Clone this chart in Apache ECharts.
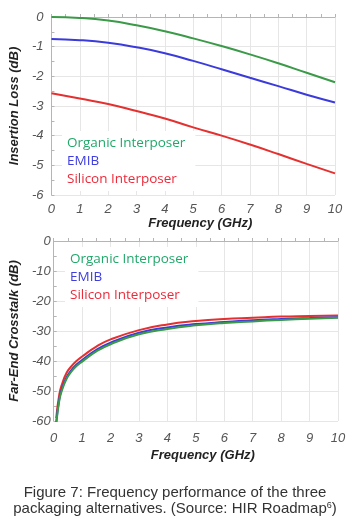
<!DOCTYPE html>
<html>
<head>
<meta charset="utf-8">
<script src="https://cdn.jsdelivr.net/npm/echarts@6/dist/echarts.min.js"></script>
<style>
	html, body { margin: 0; padding: 0; background: #fff; }
	#main { width: 350px; height: 524px; }
</style>
</head>
<body>
<div id="main"></div>
<script>
// insertion loss (dB) vs frequency (GHz)
var lossFreq = [0, 1, 2, 3, 4, 5, 6, 7, 8, 9, 10];
var organicLoss = [0, -0.03, -0.12, -0.28, -0.48, -0.72, -0.98, -1.26, -1.56, -1.88, -2.2];
var emibLoss = [-0.74, -0.78, -0.87, -1.02, -1.22, -1.48, -1.76, -2.05, -2.33, -2.62, -2.88];
var siliconLoss = [-2.57, -2.75, -2.93, -3.17, -3.42, -3.72, -4.0, -4.3, -4.62, -4.95, -5.27];

// far-end crosstalk (dB) vs frequency (GHz)
var xtalkFreq = [0.09, 0.2, 0.3, 0.45, 0.6, 0.8, 1, 1.5, 2, 3, 4, 5, 6, 7, 8, 9, 10];
var organicXtalk = [-61, -53, -49.5, -46, -43.8, -41.7, -40.2, -36.8, -34.4, -31.1, -29.3, -28.1, -27.3, -26.8, -26.3, -25.9, -25.6];
var emibXtalk = [-60.5, -52.5, -49, -45.5, -43.3, -41.2, -39.7, -36.3, -33.9, -30.6, -28.8, -27.7, -27.0, -26.4, -26.0, -25.7, -25.4];
var siliconXtalk = [-59, -51, -47.5, -44, -42, -40, -38.5, -35.2, -32.8, -29.7, -27.8, -26.7, -26.0, -25.6, -25.2, -25.0, -24.8];

var seriesNames = ['Organic Interposer', 'EMIB', 'Silicon Interposer'];
var lineColors = ['#3a9a48', '#3b3bdc', '#e53030'];
var textColors = ['#22a86b', '#3d3de0', '#ec2a3a'];

function pairs(xs, ys) {
	return xs.map(function (x, i) { return [x, ys[i]]; });
}

function makeX(gridIndex, margin, nameGap) {
	return {
		type: 'value', gridIndex: gridIndex, min: 0, max: 10, interval: 1,
		name: 'Frequency (GHz)', nameLocation: 'middle', nameGap: nameGap,
		nameTextStyle: { fontSize: 13, fontWeight: 'bold', fontStyle: 'italic', color: '#222', fontFamily: 'Liberation Sans', padding: [0, 0, 0, 14] },
		axisLine: { lineStyle: { color: '#b5b5b5' } },
		axisTick: { inside: true, length: 3, lineStyle: { color: '#b5b5b5' } },
		minorTick: { show: true, splitNumber: 2, length: 3, lineStyle: { color: '#b5b5b5' } },
		axisLabel: { margin: margin, fontSize: 13, fontStyle: 'italic', color: '#555', fontFamily: 'Liberation Sans' },
		splitLine: { show: true, lineStyle: { color: '#e6e6e6' } }
	};
}

function makeY(gridIndex, min, interval, name, margin, nameGap) {
	return {
		type: 'value', gridIndex: gridIndex, min: min, max: 0, interval: interval,
		name: name, nameLocation: 'middle', nameGap: nameGap,
		nameTextStyle: { fontSize: 13, fontWeight: 'bold', fontStyle: 'italic', color: '#222', fontFamily: 'Liberation Sans' },
		axisLine: { show: true, lineStyle: { color: '#b5b5b5' } },
		axisTick: { show: true, inside: true, length: 3, lineStyle: { color: '#b5b5b5' } },
		minorTick: { show: true, splitNumber: 2, length: 3, lineStyle: { color: '#b5b5b5' } },
		axisLabel: { margin: margin, fontSize: 13, fontStyle: 'italic', color: '#555', fontFamily: 'Liberation Sans' },
		splitLine: { show: true, lineStyle: { color: '#e6e6e6' } }
	};
}

function makeLegend(left, top) {
	return {
		orient: 'vertical', left: left, top: top,
		itemWidth: 0, itemHeight: 0, itemGap: 4,
		padding: [5, 10, 5, 0],
		backgroundColor: '#fff',
		selectedMode: false,
		data: seriesNames.map(function (n, i) {
			return { name: n, icon: 'rect', textStyle: { color: textColors[i], fontSize: 13.5, fontFamily: 'Open Sans' } };
		})
	};
}

function makeLine(name, idx, axis, data) {
	return {
		type: 'line', name: name, xAxisIndex: axis, yAxisIndex: axis,
		data: data, smooth: true, showSymbol: false,
		lineStyle: { width: 2, color: lineColors[idx] }, itemStyle: { color: lineColors[idx] },
		animation: false
	};
}

var chart = echarts.init(document.getElementById('main'));

var option = {
	backgroundColor: '#fff',
	title: {
		left: 'center', top: 480,
		text: 'Figure 7: Frequency performance of the three\npackaging alternatives. (Source: HIR Roadmap{sup|6})',
		textStyle: {
			fontSize: 15, fontWeight: 'normal', color: '#333', fontFamily: 'Liberation Sans', lineHeight: 16,
			rich: { sup: { fontSize: 9, color: '#333', fontFamily: 'Liberation Sans', lineHeight: 16, padding: [0, 0, 6, 0] } }
		}
	},
	grid: [
		{ left: 51, top: 17, width: 284, height: 178 },
		{ left: 53.5, top: 241, width: 284.5, height: 180 }
	],
	legend: [makeLegend(62, 131), makeLegend(65, 247)],
	xAxis: [makeX(0, 8, 19), makeX(1, 11, 28)],
	yAxis: [
		makeY(0, -6, 1, 'Insertion Loss (dB)', 8, 27),
		makeY(1, -60, 10, 'Far-End Crosstalk (dB)', 3, 32)
	],
	series: [
		makeLine(seriesNames[0], 0, 0, pairs(lossFreq, organicLoss)),
		makeLine(seriesNames[1], 1, 0, pairs(lossFreq, emibLoss)),
		makeLine(seriesNames[2], 2, 0, pairs(lossFreq, siliconLoss)),
		makeLine(seriesNames[2], 2, 1, pairs(xtalkFreq, siliconXtalk)),
		makeLine(seriesNames[1], 1, 1, pairs(xtalkFreq, emibXtalk)),
		makeLine(seriesNames[0], 0, 1, pairs(xtalkFreq, organicXtalk))
	]
};

chart.setOption(option);
</script>
</body>
</html>
